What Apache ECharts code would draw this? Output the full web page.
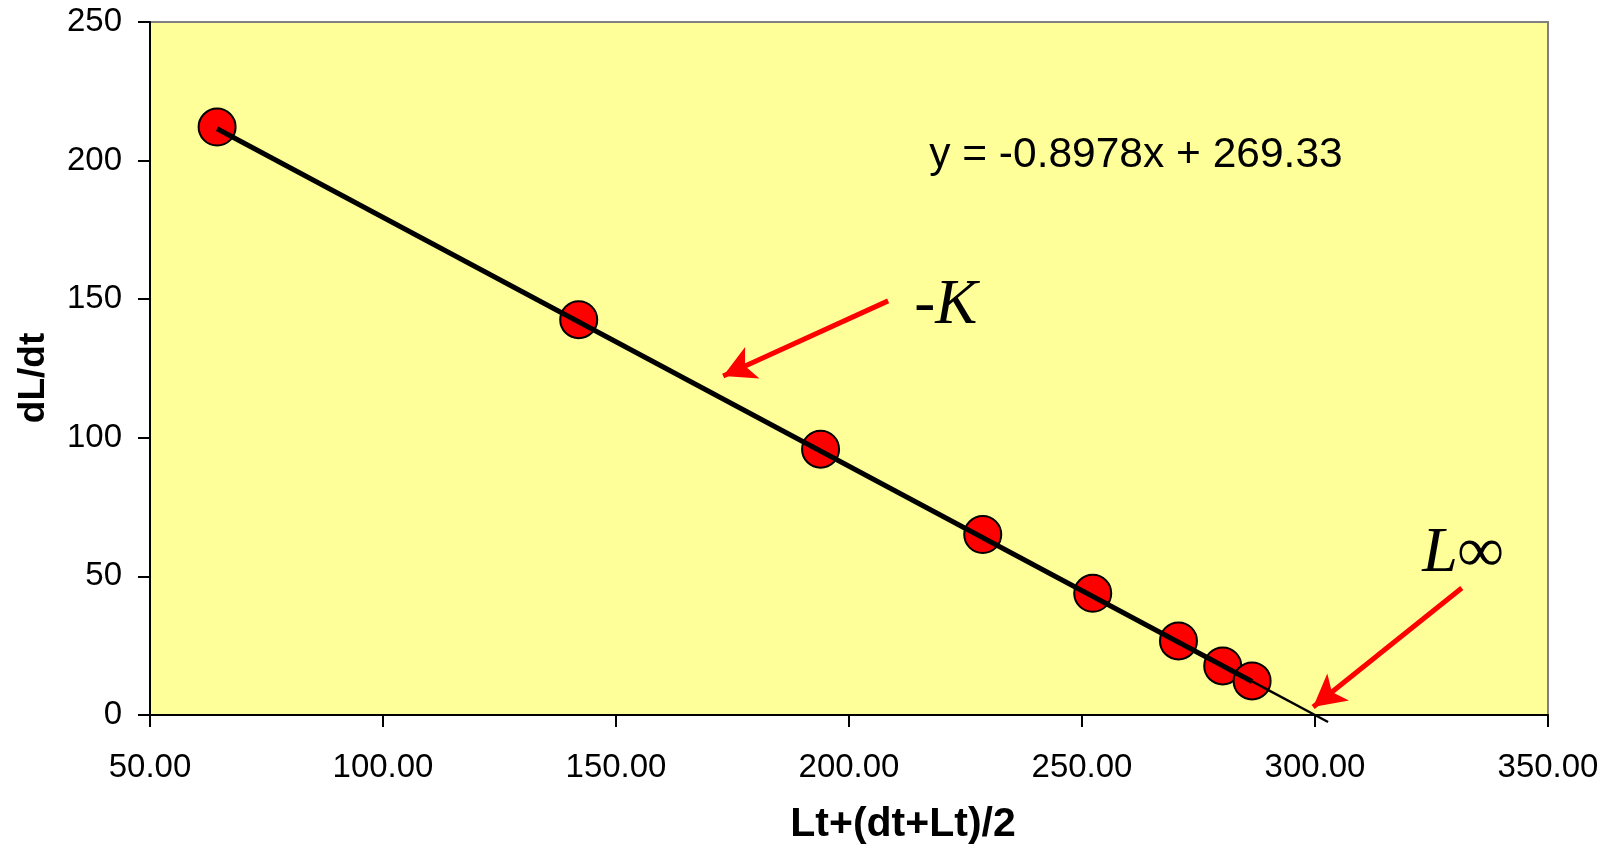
<!DOCTYPE html>
<html>
<head>
<meta charset="utf-8">
<style>
  html, body { margin: 0; padding: 0; background: #ffffff; }
  #chart { width: 1612px; height: 847px; }
</style>
<script src="https://cdn.jsdelivr.net/npm/echarts@6/dist/echarts.min.js"></script>
</head>
<body>
<div id="chart"></div>
<script>
// Mean length between samples vs growth rate (Gulland-Holt plot)
const lengthMid = [64.4, 142.0, 193.9, 228.7, 252.3, 270.7, 280.2, 286.5];
const growthRate = [212.1, 142.6, 95.9, 65.1, 43.9, 26.7, 17.7, 12.3];

// Linear trend fitted to the points, with forward extension to the x-intercept
const slope = -0.8978;
const intercept = 269.33;
const trendForwardEnd = 302.8;

const xAxisRange = [50, 350, 50];
const yAxisRange = [0, 250, 50];

const equationText = 'y = -0.8978x + 269.33';

// Annotation arrows in data coordinates: [tail, head]
const slopeArrow = [[208.4, 149.4], [173.0, 122.3]];
const asymptoteArrow = [[331.5, 45.8], [299.6, 2.9]];

const fitY = x => slope * x + intercept;
const xFirst = Math.min(...lengthMid);
const xLast = Math.max(...lengthMid);

const chart = echarts.init(document.getElementById('chart'), null, { renderer: 'canvas' });

const FONT = '"Liberation Sans", Arial, sans-serif';
const SERIF = '"Liberation Serif", "Times New Roman", serif';

function arrowLine(pair) {
  return [
    { coord: pair[0], symbol: 'none' },
    { coord: pair[1], symbol: 'arrow', symbolSize: [26, 32] }
  ];
}

chart.setOption({
  animation: false,
  backgroundColor: '#ffffff',
  grid: {
    left: 150, top: 22, right: 64, bottom: 132,
    outerBoundsMode: 'none',
    show: true,
    backgroundColor: '#FFFF99',
    borderColor: '#808080',
    borderWidth: 2
  },
  xAxis: {
    type: 'value',
    min: xAxisRange[0], max: xAxisRange[1], interval: xAxisRange[2],
    axisLine: { show: true, onZero: false, lineStyle: { color: '#000', width: 2 } },
    axisTick: { show: true, length: 12, lineStyle: { color: '#000', width: 2 } },
    splitLine: { show: false },
    axisLabel: {
      margin: 36, fontFamily: FONT, fontSize: 33, color: '#000',
      formatter: v => v.toFixed(2)
    }
  },
  yAxis: {
    type: 'value',
    min: yAxisRange[0], max: yAxisRange[1], interval: yAxisRange[2],
    axisLine: { show: true, onZero: false, lineStyle: { color: '#000', width: 2 } },
    axisTick: { show: true, length: 12, lineStyle: { color: '#000', width: 2 } },
    splitLine: { show: false },
    axisLabel: { margin: 28, fontFamily: FONT, fontSize: 33, color: '#000' }
  },
  series: [
    {
      type: 'scatter',
      z: 2,
      symbol: 'circle',
      symbolSize: 37,
      itemStyle: { color: '#FF0000', borderColor: '#000', borderWidth: 2, opacity: 1 },
      data: lengthMid.map((x, i) => [x, growthRate[i]]),
      markLine: {
        silent: true,
        animation: false,
        label: { show: false },
        lineStyle: { color: '#FF0000', width: 5, type: 'solid' },
        emphasis: { disabled: true },
        data: [arrowLine(slopeArrow), arrowLine(asymptoteArrow)]
      }
    },
    {
      // fitted line across the observed range
      type: 'line',
      z: 3,
      symbol: 'none',
      clip: false,
      lineStyle: { color: '#000', width: 5 },
      data: [[xFirst, fitY(xFirst)], [xLast, fitY(xLast)]]
    },
    {
      // forward extension of the fit
      type: 'line',
      z: 3,
      symbol: 'none',
      clip: false,
      lineStyle: { color: '#000', width: 2.4 },
      data: [[xLast, fitY(xLast)], [trendForwardEnd, fitY(trendForwardEnd)]]
    }
  ]
});

// Text annotations placed in data coordinates
const annotations = [
  { at: [217.2, 194.0], text: equationText, font: FONT, size: 42.5, style: 'normal', weight: 'normal' },
  { at: [214.0, 136.0], text: '-K', font: SERIF, size: 63, style: 'italic', weight: 'normal' },
  { at: [323.0, 46.5], text: 'L\u221E', font: SERIF, size: 64, style: 'italic', weight: 'normal' }
];

const graphics = annotations.map(a => {
  const p = chart.convertToPixel({ gridIndex: 0 }, a.at);
  return {
    type: 'text', x: p[0], y: p[1], z: 10,
    style: {
      text: a.text, fill: '#000',
      font: `${a.style} ${a.weight} ${a.size}px ${a.font}`,
      textAlign: 'left', textVerticalAlign: 'bottom'
    }
  };
});

// Axis titles
graphics.push({
  type: 'text', x: 903, y: 825, z: 10,
  style: {
    text: 'Lt+(dt+Lt)/2', fill: '#000',
    font: `bold 41px ${FONT}`, textAlign: 'center', textVerticalAlign: 'middle'
  }
});
graphics.push({
  type: 'text', x: 34, y: 378, rotation: Math.PI / 2, z: 10,
  style: {
    text: 'dL/dt', fill: '#000',
    font: `bold 37px ${FONT}`, textAlign: 'center', textVerticalAlign: 'middle'
  }
});

chart.setOption({ graphic: graphics });
</script>
</body>
</html>
